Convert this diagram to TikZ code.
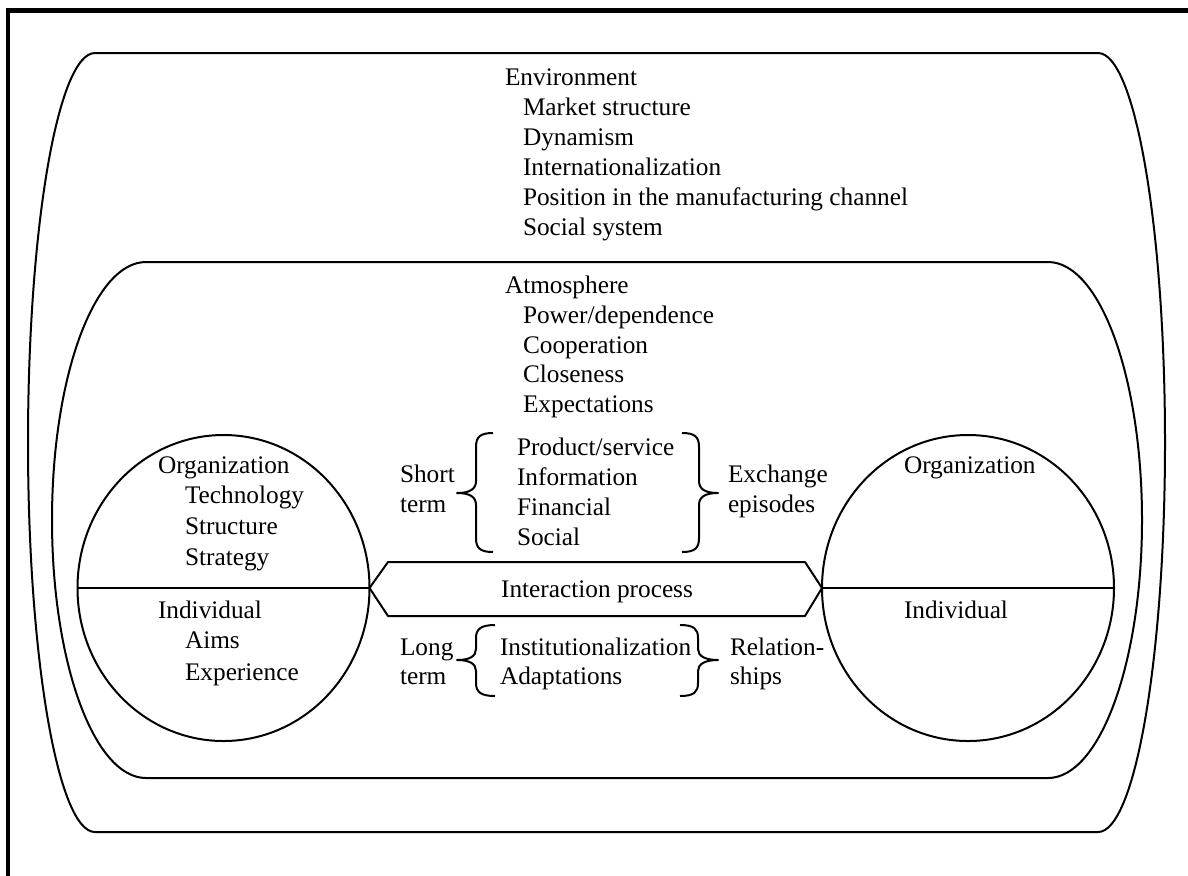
\documentclass[tikz,border=0pt]{standalone}
\usepackage{fontspec}
\setmainfont{Liberation Serif}
\usetikzlibrary{shapes.geometric}
\begin{document}
\begin{tikzpicture}[x=0.5pt,y=-0.5pt,
  txt/.style={anchor=base west,inner sep=0pt,outer sep=0pt,font=\fontsize{12.65}{15}\selectfont},
  shapeline/.style={line width=1pt,line join=round},
  framestyle/.style={line width=2.25pt,line join=miter},
  ball/.style={ellipse,draw,line width=1pt,inner sep=0pt,outer sep=0pt,minimum width=146pt,minimum height=153pt}]
\useasboundingbox[fill=white] (0,0) rectangle (1188,875);
% frame
\draw[framestyle] (7.75,876) -- (7.75,10.5) -- (1189,10.5);
% environment shape
\draw[shapeline] (95,53) -- (1098,53) arc[start angle=90,end angle=-90,x radius=33.5pt,y radius=194.75pt]
  -- (95,832) arc[start angle=270,end angle=90,x radius=33.5pt,y radius=194.75pt] -- cycle;
% atmosphere shape
\draw[shapeline] (146,262) -- (1048,262) arc[start angle=90,end angle=-90,x radius=47pt,y radius=129pt]
  -- (146,778) arc[start angle=270,end angle=90,x radius=47pt,y radius=129pt] -- cycle;
% circles
\node[ball] (lc) at (223.5,588) {};
\node[ball] (rc) at (968,588) {};
\draw[shapeline] (lc.west) -- (lc.east);
\draw[shapeline] (rc.west) -- (rc.east);
% interaction hexagon
\draw[shapeline] (lc.east) -- (388,562) -- (805,562) -- (rc.west) -- (805,616) -- (388,616) -- cycle;
% braces
\draw[shapeline] (493,433) .. controls (480,433) and (476,437) .. (476,447) -- (476,481) .. controls (476,489) and (470,493) .. (457,493) .. controls (470,493) and (476,497) .. (476,505) -- (476,538) .. controls (476,548) and (480,552) .. (493,552);
\draw[shapeline] (682,433) .. controls (695,433) and (699,437) .. (699,447) -- (699,481) .. controls (699,489) and (705,493) .. (718,493) .. controls (705,493) and (699,497) .. (699,505) -- (699,538) .. controls (699,548) and (695,552) .. (682,552);
\draw[shapeline] (495,625) .. controls (481,625) and (476,629) .. (476,638) -- (476,649) .. controls (476,656) and (470,660) .. (457,660) .. controls (470,660) and (476,664) .. (476,671) -- (476,683) .. controls (476,692) and (481,696) .. (495,696);
\draw[shapeline] (680,625) .. controls (694,625) and (698,629) .. (698,638) -- (698,649) .. controls (698,656) and (705,660) .. (718,660) .. controls (705,660) and (698,664) .. (698,671) -- (698,683) .. controls (698,692) and (694,696) .. (680,696);
% environment text
\node[txt] (env) at (505,85) {Environment};
\node[txt] (env1) at (523,115) {Market structure};
\node[txt] (env2) at (523,145) {Dynamism};
\node[txt] (env3) at (523,175) {Internationalization};
\node[txt] (env4) at (523,205) {Position in the manufacturing channel};
\node[txt] (env5) at (523,235) {Social system};
% atmosphere text
\node[txt] (atm) at (505,293) {Atmosphere};
\node[txt] (atm1) at (523,323) {Power/dependence};
\node[txt] (atm2) at (523,353) {Cooperation};
\node[txt] (atm3) at (523,382) {Closeness};
\node[txt] (atm4) at (523,412) {Expectations};
% exchange episodes
\node[txt] (ex1) at (517,455) {Product/service};
\node[txt] (ex2) at (517,485) {Information};
\node[txt] (ex3) at (517,515) {Financial};
\node[txt] (ex4) at (517,545) {Social};
\node[txt] (st1) at (400,482) {Short};
\node[txt] (st2) at (400,512) {term};
\node[txt] (ee1) at (728,482) {Exchange};
\node[txt] (ee2) at (728,512) {episodes};
% interaction
\node[txt,anchor=base] (ip) at (597,597) {Interaction process};
% relationships
\node[txt] (rl1) at (500,655) {Institutionalization};
\node[txt] (rl2) at (500,684) {Adaptations};
\node[txt] (lt1) at (400,655) {Long};
\node[txt] (lt2) at (400,684) {term};
\node[txt] (rs1) at (730,655) {Relation-};
\node[txt] (rs2) at (730,684) {ships};
% left circle
\node[txt] (lo) at (158,473) {Organization};
\node[txt] (lo1) at (185,503) {Technology};
\node[txt] (lo2) at (185,534) {Structure};
\node[txt] (lo3) at (185,565) {Strategy};
\node[txt] (li) at (158,618) {Individual};
\node[txt] (li1) at (185,648) {Aims};
\node[txt] (li2) at (185,680) {Experience};
% right circle
\node[txt] (ro) at (904,473) {Organization};
\node[txt] (ri) at (904,618) {Individual};
\end{tikzpicture}
\end{document}
